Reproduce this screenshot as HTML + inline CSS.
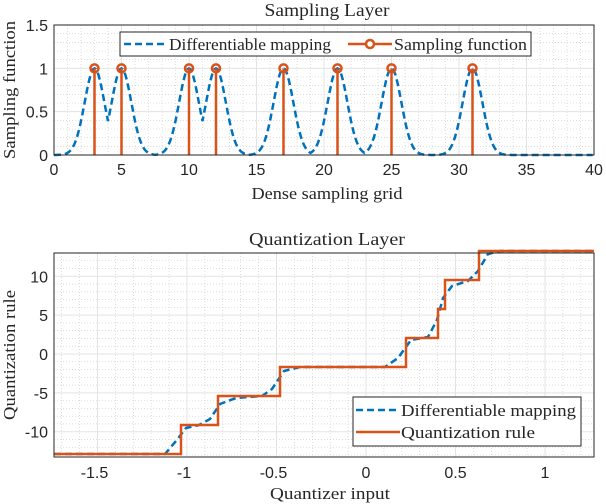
<!DOCTYPE html>
<html><head><meta charset="utf-8"><style>
html,body{margin:0;padding:0;background:#fff;}
svg{display:block;}
.tk{font-family:"Liberation Sans",sans-serif;font-size:16px;fill:#262626;}
.sf{font-family:"Liberation Serif",serif;fill:#262626;}
</style></head><body>
<svg id="s" width="606" height="504" viewBox="0 0 606 504" xmlns="http://www.w3.org/2000/svg">
<text class="sf" x="327" y="16" font-size="18" text-anchor="middle" textLength="125" lengthAdjust="spacingAndGlyphs">Sampling Layer</text>
<text class="sf" x="327" y="245" font-size="18" text-anchor="middle" textLength="156" lengthAdjust="spacingAndGlyphs">Quantization Layer</text>
<text class="sf" x="327" y="199" font-size="17" text-anchor="middle" textLength="151" lengthAdjust="spacingAndGlyphs">Dense sampling grid</text>
<text class="sf" x="330" y="499" font-size="17" text-anchor="middle" textLength="120" lengthAdjust="spacingAndGlyphs">Quantizer input</text>
<text class="sf" x="15" y="90" font-size="17" text-anchor="middle" textLength="138" lengthAdjust="spacingAndGlyphs" transform="rotate(-90 15 90)">Sampling function</text>
<text class="sf" x="15" y="355" font-size="17" text-anchor="middle" textLength="130" lengthAdjust="spacingAndGlyphs" transform="rotate(-90 15 355)">Quantization rule</text>
</svg>
<script>
var s=document.getElementById('s'),NS='http://www.w3.org/2000/svg';
function el(t,a,txt){var e=document.createElementNS(NS,t);for(var k in a)e.setAttribute(k,a[k]);if(txt!=null)e.textContent=txt;s.appendChild(e);return e;}
var L=54,R=594;
var T1=25,B1=155;
function tx(v){return L+v*13.5;} function ty(v){return B1-v*86.67;}
for(var i=0;i<=40;i++){if(i%5)el('line',{x1:tx(i),x2:tx(i),y1:T1,y2:B1,stroke:'#c8c8c8','stroke-width':0.6,'stroke-dasharray':'1,2'});}
for(var i=0;i<=15;i++){if(i%5)el('line',{x1:L,x2:R,y1:ty(i/10),y2:ty(i/10),stroke:'#c8c8c8','stroke-width':0.6,'stroke-dasharray':'1,2'});}
for(var i=0;i<=40;i+=5){el('line',{x1:tx(i),x2:tx(i),y1:T1,y2:B1,stroke:'#e3e3e3','stroke-width':1});el('text',{class:'tk',x:tx(i),y:B1+20,'text-anchor':'middle'},i);}
[0,0.5,1,1.5].forEach(function(v){el('line',{x1:L,x2:R,y1:ty(v),y2:ty(v),stroke:'#e3e3e3','stroke-width':1});el('text',{class:'tk',x:L-6,y:ty(v)+6,'text-anchor':'end'},v);});
var pk=[3,5,10,12,17,21,25,31],d='';
for(var x=0;x<=40;x+=0.1){var m=0;pk.forEach(function(p){m=Math.max(m,Math.exp(-(x-p)*(x-p)/1.07));});d+=(x==0?'M':'L')+tx(x).toFixed(1)+','+ty(m).toFixed(1);}
el('path',{d:d,fill:'none',stroke:'#0072bd','stroke-width':2.5,'stroke-dasharray':'7,4'});
pk.forEach(function(p){el('line',{x1:tx(p),x2:tx(p),y1:B1,y2:ty(1),stroke:'#d95319','stroke-width':2.5});el('circle',{cx:tx(p),cy:ty(1),r:4,fill:'none',stroke:'#d95319','stroke-width':2.5});});
el('rect',{x:L,y:T1,width:R-L,height:B1-T1,fill:'none',stroke:'#262626','stroke-width':1});
el('rect',{x:120,y:32,width:411,height:24,fill:'#fff',stroke:'#262626','stroke-width':1});
el('line',{x1:124,x2:168,y1:44,y2:44,stroke:'#0072bd','stroke-width':2.5,'stroke-dasharray':'7,4'});
el('text',{class:'sf',x:169,y:50,'font-size':17,textLength:162,lengthAdjust:'spacingAndGlyphs'},'Differentiable mapping');
el('line',{x1:348,x2:392,y1:44,y2:44,stroke:'#d95319','stroke-width':2.5});
el('circle',{cx:370,cy:44,r:4,fill:'#fff',stroke:'#d95319','stroke-width':2.5});
el('text',{class:'sf',x:394,y:50,'font-size':17,textLength:133,lengthAdjust:'spacingAndGlyphs'},'Sampling function');
var T2=253,B2=457;
function bx(v){return 366+v*179;} function by(v){return 354-v*7.77;}
for(var i=-17;i<=12;i++){if(i%5)el('line',{x1:bx(i/10),x2:bx(i/10),y1:T2,y2:B2,stroke:'#c8c8c8','stroke-width':0.6,'stroke-dasharray':'1,2'});}
for(var i=-13;i<=13;i++){if(i%5)el('line',{x1:L,x2:R,y1:by(i),y2:by(i),stroke:'#c8c8c8','stroke-width':0.6,'stroke-dasharray':'1,2'});}
[-1.5,-1,-0.5,0,0.5,1].forEach(function(v){el('line',{x1:bx(v),x2:bx(v),y1:T2,y2:B2,stroke:'#e3e3e3','stroke-width':1});el('text',{class:'tk',x:bx(v)-(v<0?3:0),y:B2+21,'text-anchor':'middle'},v);});
[-10,-5,0,5,10].forEach(function(v){el('line',{x1:L,x2:R,y1:by(v),y2:by(v),stroke:'#e3e3e3','stroke-width':1});el('text',{class:'tk',x:L-6,y:by(v)+6,'text-anchor':'end'},v);});
var xs=[181,218,280,406,438,445,479],ys=[454,425,396,367,338,309,280,251];
var bd='M54,454 L165,454';
var cps=[[165,454],[176,441],[186,428],[199,425],[210,419],[220,404],[236,398],[262,396],[272,389],[284,371],[300,367],[385,367],[398,358],[411,340],[428,337],[437,320],[443,298],[452,286],[468,281],[478,271],[488,254],[500,251],[594,251]];
cps.forEach(function(p){bd+=' L'+p[0]+','+p[1];});
el('path',{d:bd,fill:'none',stroke:'#0072bd','stroke-width':2.5,'stroke-dasharray':'7,4','stroke-linejoin':'round'});
var rd='M54,454';for(var i=0;i<xs.length;i++){rd+=' L'+xs[i]+','+ys[i]+' L'+xs[i]+','+ys[i+1];}rd+=' L594,251';
el('path',{d:rd,fill:'none',stroke:'#d95319','stroke-width':2.5});
el('rect',{x:L,y:T2,width:R-L,height:B2-T2,fill:'none',stroke:'#262626','stroke-width':1});
el('rect',{x:353,y:431-221+187,width:228,height:49,fill:'#fff',stroke:'#262626','stroke-width':1});
el('line',{x1:356,x2:400,y1:410,y2:410,stroke:'#0072bd','stroke-width':2.5,'stroke-dasharray':'7,4'});
el('text',{class:'sf',x:401,y:416,'font-size':17,textLength:175,lengthAdjust:'spacingAndGlyphs'},'Differentiable mapping');
el('line',{x1:356,x2:400,y1:432,y2:432,stroke:'#d95319','stroke-width':2.5});
el('text',{class:'sf',x:401,y:438,'font-size':17,textLength:134,lengthAdjust:'spacingAndGlyphs'},'Quantization rule');
</script>
</body></html>
